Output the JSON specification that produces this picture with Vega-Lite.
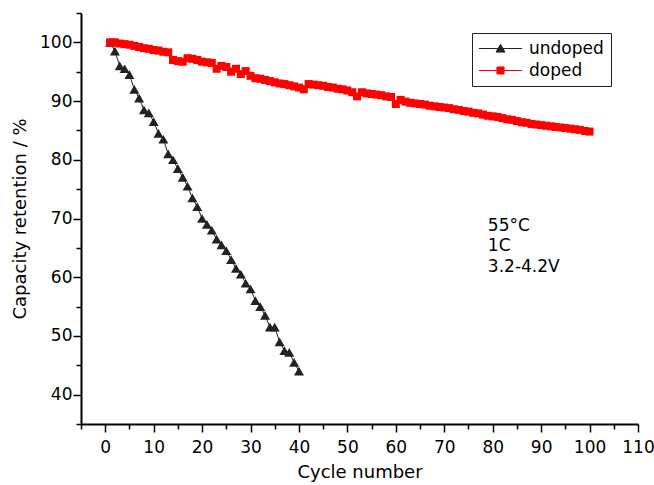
{
  "$schema": "https://vega.github.io/schema/vega-lite/v6.json",
  "width": 557,
  "height": 411,
  "autosize": "none",
  "padding": {"left": 81, "top": 13, "right": 16, "bottom": 61},
  "background": "white",
  "config": {
    "view": {"stroke": null},
    "font": "DejaVu Sans",
    "axis": {
      "domainColor": "black",
      "domainWidth": 2,
      "tickColor": "black",
      "tickWidth": 1.5,
      "labelColor": "black",
      "titleColor": "black",
      "labelFont": "DejaVu Sans",
      "titleFont": "DejaVu Sans",
      "labelFontSize": 17,
      "titleFontSize": 18,
      "titleFontWeight": "normal",
      "grid": false,
      "labelFlush": false,
      "labelOverlap": false
    }
  },
  "resolve": {"axis": {"x": "independent", "y": "independent"}},
  "datasets": {
    "curves": [
      {"series": "undoped", "cycle": 1, "retention": 100},
      {"series": "undoped", "cycle": 2, "retention": 98.5},
      {"series": "undoped", "cycle": 3, "retention": 96},
      {"series": "undoped", "cycle": 4, "retention": 95.5},
      {"series": "undoped", "cycle": 5, "retention": 94.5},
      {"series": "undoped", "cycle": 6, "retention": 92},
      {"series": "undoped", "cycle": 7, "retention": 90.5},
      {"series": "undoped", "cycle": 8, "retention": 88.5},
      {"series": "undoped", "cycle": 9, "retention": 88},
      {"series": "undoped", "cycle": 10, "retention": 86.5},
      {"series": "undoped", "cycle": 11, "retention": 84.5},
      {"series": "undoped", "cycle": 12, "retention": 83.5},
      {"series": "undoped", "cycle": 13, "retention": 81},
      {"series": "undoped", "cycle": 14, "retention": 80},
      {"series": "undoped", "cycle": 15, "retention": 78.5},
      {"series": "undoped", "cycle": 16, "retention": 77},
      {"series": "undoped", "cycle": 17, "retention": 75.5},
      {"series": "undoped", "cycle": 18, "retention": 73.5},
      {"series": "undoped", "cycle": 19, "retention": 72},
      {"series": "undoped", "cycle": 20, "retention": 70},
      {"series": "undoped", "cycle": 21, "retention": 69},
      {"series": "undoped", "cycle": 22, "retention": 68},
      {"series": "undoped", "cycle": 23, "retention": 66.5},
      {"series": "undoped", "cycle": 24, "retention": 65.5},
      {"series": "undoped", "cycle": 25, "retention": 64.5},
      {"series": "undoped", "cycle": 26, "retention": 63},
      {"series": "undoped", "cycle": 27, "retention": 61.5},
      {"series": "undoped", "cycle": 28, "retention": 60.5},
      {"series": "undoped", "cycle": 29, "retention": 59},
      {"series": "undoped", "cycle": 30, "retention": 58},
      {"series": "undoped", "cycle": 31, "retention": 56},
      {"series": "undoped", "cycle": 32, "retention": 55},
      {"series": "undoped", "cycle": 33, "retention": 53.5},
      {"series": "undoped", "cycle": 34, "retention": 51.5},
      {"series": "undoped", "cycle": 35, "retention": 51.5},
      {"series": "undoped", "cycle": 36, "retention": 49},
      {"series": "undoped", "cycle": 37, "retention": 47.5},
      {"series": "undoped", "cycle": 38, "retention": 47.2},
      {"series": "undoped", "cycle": 39, "retention": 45.5},
      {"series": "undoped", "cycle": 40, "retention": 44},
      {"series": "doped", "cycle": 1, "retention": 100},
      {"series": "doped", "cycle": 2, "retention": 100},
      {"series": "doped", "cycle": 3, "retention": 99.8},
      {"series": "doped", "cycle": 4, "retention": 99.7},
      {"series": "doped", "cycle": 5, "retention": 99.6},
      {"series": "doped", "cycle": 6, "retention": 99.4},
      {"series": "doped", "cycle": 7, "retention": 99.2},
      {"series": "doped", "cycle": 8, "retention": 99.0},
      {"series": "doped", "cycle": 9, "retention": 98.9},
      {"series": "doped", "cycle": 10, "retention": 98.7},
      {"series": "doped", "cycle": 11, "retention": 98.6},
      {"series": "doped", "cycle": 12, "retention": 98.4},
      {"series": "doped", "cycle": 13, "retention": 98.3},
      {"series": "doped", "cycle": 14, "retention": 97.0},
      {"series": "doped", "cycle": 15, "retention": 96.8},
      {"series": "doped", "cycle": 16, "retention": 96.7},
      {"series": "doped", "cycle": 17, "retention": 97.3},
      {"series": "doped", "cycle": 18, "retention": 97.2},
      {"series": "doped", "cycle": 19, "retention": 97.0},
      {"series": "doped", "cycle": 20, "retention": 96.7},
      {"series": "doped", "cycle": 21, "retention": 96.6},
      {"series": "doped", "cycle": 22, "retention": 96.5},
      {"series": "doped", "cycle": 23, "retention": 95.5},
      {"series": "doped", "cycle": 24, "retention": 96.0},
      {"series": "doped", "cycle": 25, "retention": 95.8},
      {"series": "doped", "cycle": 26, "retention": 95.0},
      {"series": "doped", "cycle": 27, "retention": 95.5},
      {"series": "doped", "cycle": 28, "retention": 94.6},
      {"series": "doped", "cycle": 29, "retention": 95.1},
      {"series": "doped", "cycle": 30, "retention": 94.3},
      {"series": "doped", "cycle": 31, "retention": 93.9},
      {"series": "doped", "cycle": 32, "retention": 93.8},
      {"series": "doped", "cycle": 33, "retention": 93.6},
      {"series": "doped", "cycle": 34, "retention": 93.4},
      {"series": "doped", "cycle": 35, "retention": 93.2},
      {"series": "doped", "cycle": 36, "retention": 93.0},
      {"series": "doped", "cycle": 37, "retention": 92.9},
      {"series": "doped", "cycle": 38, "retention": 92.7},
      {"series": "doped", "cycle": 39, "retention": 92.5},
      {"series": "doped", "cycle": 40, "retention": 92.3},
      {"series": "doped", "cycle": 41, "retention": 92.0},
      {"series": "doped", "cycle": 42, "retention": 92.9},
      {"series": "doped", "cycle": 43, "retention": 92.8},
      {"series": "doped", "cycle": 44, "retention": 92.7},
      {"series": "doped", "cycle": 45, "retention": 92.6},
      {"series": "doped", "cycle": 46, "retention": 92.4},
      {"series": "doped", "cycle": 47, "retention": 92.3},
      {"series": "doped", "cycle": 48, "retention": 92.1},
      {"series": "doped", "cycle": 49, "retention": 92.0},
      {"series": "doped", "cycle": 50, "retention": 91.8},
      {"series": "doped", "cycle": 51, "retention": 91.5},
      {"series": "doped", "cycle": 52, "retention": 90.8},
      {"series": "doped", "cycle": 53, "retention": 91.5},
      {"series": "doped", "cycle": 54, "retention": 91.3},
      {"series": "doped", "cycle": 55, "retention": 91.2},
      {"series": "doped", "cycle": 56, "retention": 91.1},
      {"series": "doped", "cycle": 57, "retention": 91.0},
      {"series": "doped", "cycle": 58, "retention": 90.8},
      {"series": "doped", "cycle": 59, "retention": 90.7},
      {"series": "doped", "cycle": 60, "retention": 89.5},
      {"series": "doped", "cycle": 61, "retention": 90.2},
      {"series": "doped", "cycle": 62, "retention": 89.9},
      {"series": "doped", "cycle": 63, "retention": 89.7},
      {"series": "doped", "cycle": 64, "retention": 89.6},
      {"series": "doped", "cycle": 65, "retention": 89.5},
      {"series": "doped", "cycle": 66, "retention": 89.4},
      {"series": "doped", "cycle": 67, "retention": 89.2},
      {"series": "doped", "cycle": 68, "retention": 89.1},
      {"series": "doped", "cycle": 69, "retention": 89.0},
      {"series": "doped", "cycle": 70, "retention": 88.9},
      {"series": "doped", "cycle": 71, "retention": 88.8},
      {"series": "doped", "cycle": 72, "retention": 88.6},
      {"series": "doped", "cycle": 73, "retention": 88.5},
      {"series": "doped", "cycle": 74, "retention": 88.3},
      {"series": "doped", "cycle": 75, "retention": 88.2},
      {"series": "doped", "cycle": 76, "retention": 88.0},
      {"series": "doped", "cycle": 77, "retention": 87.9},
      {"series": "doped", "cycle": 78, "retention": 87.7},
      {"series": "doped", "cycle": 79, "retention": 87.5},
      {"series": "doped", "cycle": 80, "retention": 87.4},
      {"series": "doped", "cycle": 81, "retention": 87.3},
      {"series": "doped", "cycle": 82, "retention": 87.1},
      {"series": "doped", "cycle": 83, "retention": 86.9},
      {"series": "doped", "cycle": 84, "retention": 86.8},
      {"series": "doped", "cycle": 85, "retention": 86.6},
      {"series": "doped", "cycle": 86, "retention": 86.4},
      {"series": "doped", "cycle": 87, "retention": 86.3},
      {"series": "doped", "cycle": 88, "retention": 86.1},
      {"series": "doped", "cycle": 89, "retention": 86.0},
      {"series": "doped", "cycle": 90, "retention": 85.9},
      {"series": "doped", "cycle": 91, "retention": 85.8},
      {"series": "doped", "cycle": 92, "retention": 85.7},
      {"series": "doped", "cycle": 93, "retention": 85.6},
      {"series": "doped", "cycle": 94, "retention": 85.5},
      {"series": "doped", "cycle": 95, "retention": 85.4},
      {"series": "doped", "cycle": 96, "retention": 85.3},
      {"series": "doped", "cycle": 97, "retention": 85.2},
      {"series": "doped", "cycle": 98, "retention": 85.1},
      {"series": "doped", "cycle": 99, "retention": 84.9},
      {"series": "doped", "cycle": 100, "retention": 84.8}
    ],
    "notes": [
      {"cycle": 79, "retention": 68.8, "label": "55°C"},
      {"cycle": 79, "retention": 65.3, "label": "1C"},
      {"cycle": 79, "retention": 61.7, "label": "3.2-4.2V"}
    ]
  },
  "layer": [
    {
      "data": {"name": "curves"},
      "mark": {"type": "line", "strokeWidth": 1},
      "encoding": {
        "x": {
          "field": "cycle", "type": "quantitative",
          "scale": {"domain": [-5, 110], "nice": false, "zero": false},
          "axis": {
            "orient": "bottom",
            "title": "Cycle number",
            "values": [0, 10, 20, 30, 40, 50, 60, 70, 80, 90, 100, 110],
            "tickSize": 8,
            "labelPadding": 7,
            "titlePadding": 8
          }
        },
        "y": {
          "field": "retention", "type": "quantitative",
          "scale": {"domain": [35, 105], "nice": false, "zero": false},
          "axis": {
            "orient": "left",
            "title": "Capacity retention / %",
            "values": [40, 50, 60, 70, 80, 90, 100],
            "tickSize": 8,
            "labelPadding": 1,
            "titlePadding": 10
          }
        },
        "color": {
          "field": "series", "type": "nominal",
          "scale": {"domain": ["undoped", "doped"], "range": ["#222222", "#ff0000"]},
          "legend": {
            "title": null,
            "orient": "none",
            "legendX": 391,
            "legendY": 20,
            "strokeColor": "#222222",
            "fillColor": "white",
            "padding": 7,
            "rowPadding": 4,
            "labelFont": "DejaVu Sans",
            "labelFontSize": 17,
            "labelColor": "black",
            "labelOffset": 20,
            "symbolOffset": 13,
            "symbolSize": 256,
            "symbolType": "M-2.69,0H2.69M-0.56,0.45L0,-0.52L0.56,0.45Z",
            "symbolStrokeWidth": 1,
            "symbolOpacity": 1,
            "encode": {
              "symbols": {
                "update": {
                  "shape": {"signal": "datum.value === 'undoped' ? 'M-2.69,0H2.69M-0.56,0.45L0,-0.52L0.56,0.45Z' : 'M-2.69,0H2.69M-0.44,-0.44H0.44V0.44H-0.44Z'"}
                }
              }
            }
          }
        }
      }
    },
    {
      "data": {"name": "curves"},
      "transform": [{"filter": "datum.series === 'undoped'"}],
      "mark": {"type": "point", "filled": true, "opacity": 1, "shape": "triangle-up", "size": 100},
      "encoding": {
        "x": {"field": "cycle", "type": "quantitative", "axis": null},
        "y": {"field": "retention", "type": "quantitative", "axis": null},
        "color": {"field": "series", "type": "nominal"}
      }
    },
    {
      "data": {"name": "curves"},
      "transform": [{"filter": "datum.series === 'doped'"}],
      "mark": {"type": "point", "filled": true, "opacity": 1, "shape": "square", "size": 64},
      "encoding": {
        "x": {"field": "cycle", "type": "quantitative", "axis": null},
        "y": {"field": "retention", "type": "quantitative", "axis": null},
        "color": {"field": "series", "type": "nominal"}
      }
    },
    {
      "data": {"name": "notes"},
      "mark": {"type": "text", "align": "left", "baseline": "middle", "font": "DejaVu Sans", "fontSize": 17, "color": "black"},
      "encoding": {
        "x": {
          "field": "cycle", "type": "quantitative",
          "axis": {
            "orient": "bottom",
            "title": null,
            "values": [-5, 5, 15, 25, 35, 45, 55, 65, 75, 85, 95, 105],
            "labels": false,
            "domain": false,
            "tickSize": 5
          }
        },
        "y": {
          "field": "retention", "type": "quantitative",
          "axis": {
            "orient": "left",
            "title": null,
            "values": [35, 45, 55, 65, 75, 85, 95, 105],
            "labels": false,
            "domain": false,
            "tickSize": 5
          }
        },
        "text": {"field": "label"}
      }
    }
  ]
}
